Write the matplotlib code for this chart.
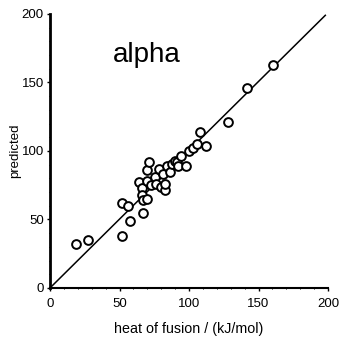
import matplotlib
matplotlib.use("Agg")
import matplotlib.pyplot as plt
from matplotlib.ticker import MultipleLocator

plt.rcParams['font.family'] = ['Liberation Sans', 'DejaVu Sans']

# measured heat of fusion (kJ/mol) vs predicted
heat_of_fusion = [19, 27, 51.5, 52, 56, 57.5, 67, 64, 66, 66.5, 67, 69.5,
                  69.5, 71.5, 69.5, 73, 75.5, 76.5, 78.5, 80, 81.5, 82.5,
                  82.5, 84, 86, 87.5, 90, 91, 92, 94.5, 98, 100, 103,
                  105.5, 108, 112, 128, 142, 160.5]
predicted = [32, 35, 38, 62, 60, 49, 55, 77.5, 73, 68, 64, 65,
             86, 92, 78, 75, 81, 76, 87, 73.5, 83, 71.5,
             76, 89, 84.5, 90.5, 93, 92, 89, 96.5, 89, 100, 102.5,
             105, 113.5, 103.5, 121.5, 146, 162.5]

fit_x = [0, 198]
fit_y = [0, 199]

fig = plt.figure(figsize=(3.4, 3.4), dpi=100)
ax = fig.add_axes([0.147, 0.153, 0.818, 0.806])

ax.plot(fit_x, fit_y, color='black', lw=1.1)
ax.plot(heat_of_fusion, predicted, 'o', ms=6.3, mfc='white', mec='black', mew=1.4)

ax.set_xlim(0, 200)
ax.set_ylim(0, 200)
ax.xaxis.set_major_locator(MultipleLocator(50))
ax.yaxis.set_major_locator(MultipleLocator(50))
ax.xaxis.set_minor_locator(MultipleLocator(10))
ax.yaxis.set_minor_locator(MultipleLocator(10))
ax.tick_params(which='major', length=2.5, width=1, labelsize=9.5, pad=2)
ax.tick_params(axis='x', which='major', pad=5)
ax.tick_params(which='minor', length=1, width=0.7)

for s in ['top', 'right']:
    ax.spines[s].set_visible(False)
ax.spines['left'].set_linewidth(2)
ax.spines['bottom'].set_linewidth(1.5)

ax.set_xlabel('heat of fusion / (kJ/mol)', fontsize=10.3, labelpad=8)
ax.set_ylabel('predicted', fontsize=9.5, labelpad=0)
ax.text(45, 170, 'alpha', fontsize=20, va='center', ha='left')

fig.savefig('out.png', dpi=100)
